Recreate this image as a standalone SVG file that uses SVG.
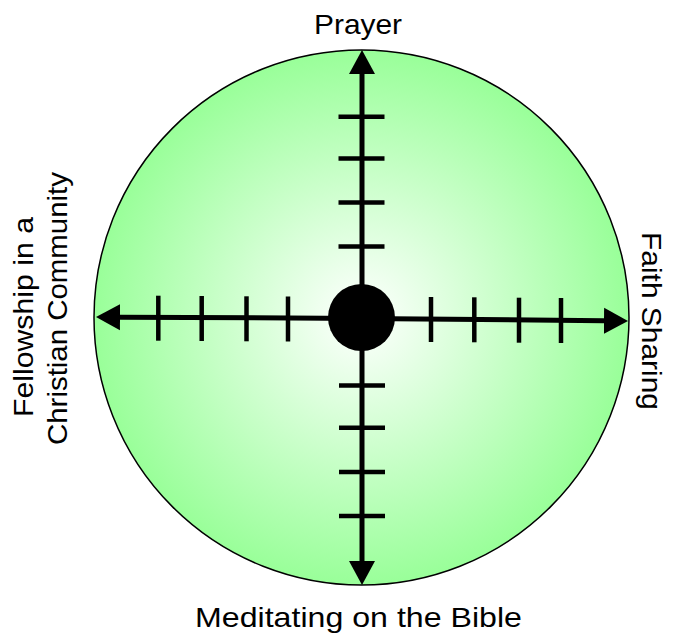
<svg xmlns="http://www.w3.org/2000/svg" width="681" height="633" viewBox="0 0 681 633">
  <style>
    .axis { stroke: #000; stroke-width: 5; fill: none; }
    .tick { stroke: #000; stroke-width: 4.5; }
    .label { font-family: "Liberation Sans", Arial, sans-serif; font-size: 28px; fill: #000; }
  </style>
  <defs>
    <radialGradient id="bg" cx="50%" cy="50%" r="50%">
      <stop offset="0" stop-color="#FFFFFF"/>
      <stop offset="1" stop-color="#99FF99"/>
    </radialGradient>
    <marker id="arrow" markerUnits="userSpaceOnUse" markerWidth="26" markerHeight="28" viewBox="0 -14 26 28" refX="0" refY="0" orient="auto">
      <path d="M0,-13 L24,0 L0,13 Z" fill="#000"/>
    </marker>
  </defs>
  <rect width="681" height="633" fill="#FFFFFF"/>
  <g id="circle">
    <circle cx="361.5" cy="317.5" r="267.5" fill="url(#bg)" stroke="#000" stroke-width="1.5"/>
  </g>
  <g id="connectors">
    <line class="axis" x1="362" y1="318" x2="362" y2="74" marker-end="url(#arrow)"/>
    <line class="axis" x1="362" y1="318" x2="362" y2="561" marker-end="url(#arrow)"/>
    <line class="axis" x1="362" y1="318.4" x2="120" y2="317.2" marker-end="url(#arrow)"/>
    <line class="axis" x1="362" y1="318.4" x2="604" y2="320.8" marker-end="url(#arrow)"/>
    <g id="ticks">
      <line class="tick" x1="338.5" y1="116.7" x2="384.5" y2="116.7"/>
      <line class="tick" x1="338.5" y1="158.5" x2="384.5" y2="158.5"/>
      <line class="tick" x1="338.5" y1="202.5" x2="384.5" y2="202.5"/>
      <line class="tick" x1="338.5" y1="246.5" x2="384.5" y2="246.5"/>
      <line class="tick" x1="339" y1="385.5" x2="385" y2="385.5"/>
      <line class="tick" x1="339" y1="427.7" x2="385" y2="427.7"/>
      <line class="tick" x1="339" y1="472" x2="385" y2="472"/>
      <line class="tick" x1="339" y1="516" x2="385" y2="516"/>
      <line class="tick" x1="158.3" y1="295.7" x2="158.3" y2="340.7"/>
      <line class="tick" x1="201.7" y1="296" x2="201.7" y2="341"/>
      <line class="tick" x1="246.5" y1="296.3" x2="246.5" y2="341.3"/>
      <line class="tick" x1="288" y1="296.5" x2="288" y2="341.5"/>
      <line class="tick" x1="431" y1="297" x2="431" y2="342"/>
      <line class="tick" x1="474.3" y1="297.3" x2="474.3" y2="342.3"/>
      <line class="tick" x1="519" y1="297.7" x2="519" y2="342.7"/>
      <line class="tick" x1="561" y1="298" x2="561" y2="343"/>
    </g>
  </g>
  <g id="center">
    <circle cx="361.5" cy="317.5" r="33.5" fill="#000"/>
  </g>
  <g id="label-prayer">
    <text class="label" x="358" y="34" text-anchor="middle" textLength="88" lengthAdjust="spacingAndGlyphs">Prayer</text>
  </g>
  <g id="label-bible">
    <text class="label" x="358.5" y="627" text-anchor="middle" textLength="327" lengthAdjust="spacingAndGlyphs">Meditating on the Bible</text>
  </g>
  <g id="label-fellowship">
    <text class="label" transform="translate(33,317) rotate(-90)" text-anchor="middle" textLength="200" lengthAdjust="spacingAndGlyphs">Fellowship in a</text>
    <text class="label" transform="translate(67,308.5) rotate(-90)" text-anchor="middle" textLength="273" lengthAdjust="spacingAndGlyphs">Christian Community</text>
  </g>
  <g id="label-faith">
    <text class="label" transform="translate(642,321) rotate(90)" text-anchor="middle" textLength="178" lengthAdjust="spacingAndGlyphs">Faith Sharing</text>
  </g>
</svg>
